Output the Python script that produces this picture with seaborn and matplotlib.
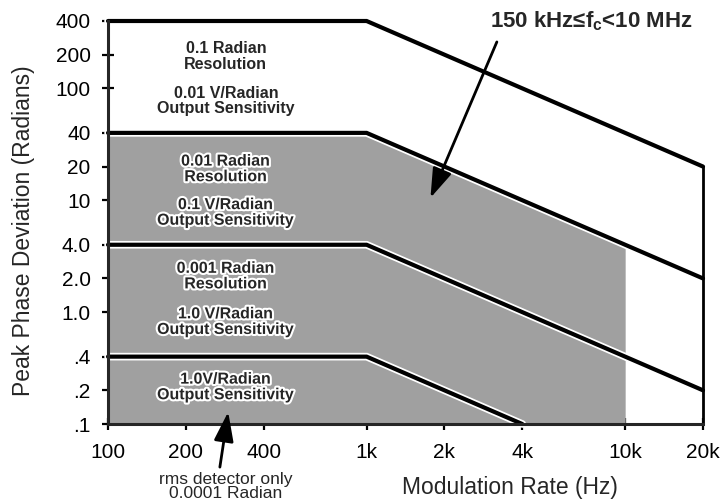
import matplotlib
matplotlib.use("Agg")
import matplotlib.pyplot as plt
import matplotlib.patheffects as pe
from matplotlib.ticker import NullLocator, FixedLocator, FixedFormatter
import pandas as pd
import seaborn as sns

# Modulation-rate breakpoints (Hz)
rate = [100, 1000, 20000]
# Maximum peak phase deviation of each range (radians)
range_400 = [400, 400, 20]
range_40 = [40, 40, 2]
range_4 = [4, 4, 0.2]
# The lowest range runs off the bottom of the scale at 4 kHz
rate_low = [100, 1000, 4000]
range_04 = [0.4, 0.4, 0.1]
# Shaded area (150 kHz <= fc < 10 MHz) reaches 10 kHz
shade_rate = [100, 1000, 10000]
shade_top = [40, 40, 4]

x_ticks = [100, 200, 400, 1000, 2000, 4000, 10000, 20000]
x_labels = ["100", "200", "400", "1k", "2k", "4k", "10k", "20k"]
y_ticks = [400, 200, 100, 40, 20, 10, 4, 2, 1, 0.4, 0.2, 0.1]
y_labels = ["400", "200", "100", "40", "20", "10", "4.0", "2.0", "1.0", ".4", ".2", ".1"]

sns.set_style("ticks")
plt.rcParams["font.family"] = ["Liberation Sans", "DejaVu Sans"]
plt.rcParams["mathtext.fontset"] = "custom"
plt.rcParams["mathtext.rm"] = "Liberation Sans"
plt.rcParams["mathtext.bf"] = "Liberation Sans:bold"

curves = pd.concat([
    pd.DataFrame({"rate": rate, "dev": range_400, "range": "400"}),
    pd.DataFrame({"rate": rate, "dev": range_40, "range": "40"}),
    pd.DataFrame({"rate": rate, "dev": range_4, "range": "4"}),
    pd.DataFrame({"rate": rate_low, "dev": range_04, "range": "0.4"}),
], ignore_index=True)

fig = plt.figure(figsize=(7.22, 5.0), dpi=100)
ax = fig.add_axes([0.1496, 0.152, 0.8241, 0.806])
ax.set_xscale("log")
ax.set_yscale("log")

gray = "#a0a0a0"
ax.fill_between(shade_rate, y_ticks[-1], shade_top, color=gray, lw=0, zorder=1)

line_fx = [pe.Stroke(linewidth=5.5, foreground="white"), pe.Normal()]
sns.lineplot(data=curves, x="rate", y="dev", units="range", estimator=None,
             sort=False, color="black", lw=3, ax=ax, zorder=3,
             path_effects=line_fx, solid_joinstyle="miter", clip_on=False)
# right-hand boundary at the top modulation rate
ax.plot([rate[-1], rate[-1]], [y_ticks[-1], range_400[-1]], color="black",
        lw=2, zorder=3, clip_on=False)

ax.set_xlim(x_ticks[0], x_ticks[-1])
ax.set_ylim(y_ticks[-1], y_ticks[0])
ax.xaxis.set_major_locator(FixedLocator(x_ticks))
ax.xaxis.set_major_formatter(FixedFormatter(x_labels))
ax.yaxis.set_major_locator(FixedLocator(y_ticks))
ax.yaxis.set_major_formatter(FixedFormatter(y_labels))
ax.xaxis.set_minor_locator(NullLocator())
ax.yaxis.set_minor_locator(NullLocator())

for side in ("top", "right"):
    ax.spines[side].set_visible(False)
for side in ("left", "bottom"):
    ax.spines[side].set_linewidth(2.2)
    ax.spines[side].set_zorder(4)
ax.tick_params(axis="both", direction="inout", length=9, width=1.6,
               labelsize=15, colors="black")
ax.tick_params(axis="y", pad=8)
ax.tick_params(axis="x", pad=9)
ax.set_facecolor("white")

ax.set_xlabel("Modulation Rate (Hz)", fontsize=16.5)
ax.set_ylabel("Peak Phase Deviation (Radians)", fontsize=16.5)
ax.xaxis.set_label_coords(0.676, -0.128)
ax.yaxis.set_label_coords(-0.122, 0.479)

halo = [pe.withStroke(linewidth=3, foreground="white")]
blocks = [
    ("0.1 Radian\nResolution", 0.912, None),
    ("0.01 V/Radian\nOutput Sensitivity", 0.801, None),
    ("0.01 Radian\nResolution", 0.633, halo),
    ("0.1 V/Radian\nOutput Sensitivity", 0.525, halo),
    ("0.001 Radian\nResolution", 0.367, halo),
    ("1.0 V/Radian\nOutput Sensitivity", 0.254, halo),
    ("1.0V/Radian\nOutput Sensitivity", 0.092, halo),
]
for txt, yy, fx in blocks:
    ax.text(0.198, yy, txt, transform=ax.transAxes, ha="center", va="center",
            fontsize=11.5, fontweight="bold", linespacing=1.05, zorder=5,
            path_effects=fx)

ax.text(0.813, 1.0, r"150 kHz≤f$_{\mathbf{c}}$<10 MHz", transform=ax.transAxes,
        ha="center", va="center", fontsize=16, fontweight="bold", zorder=5)
arrow = dict(arrowstyle="-|>,head_length=0.9,head_width=0.3", color="black",
             lw=2, mutation_scale=20, shrinkA=0, shrinkB=0)
ax.annotate("", xy=(1766, 10.5), xytext=(3190, 260), xycoords="data",
            textcoords="data", arrowprops=arrow, zorder=6)
ax.annotate("", xy=(0.202, 0.03), xytext=(0.188, -0.107),
            xycoords="axes fraction", textcoords="axes fraction",
            arrowprops=arrow, annotation_clip=False, zorder=6)
ax.text(0.198, -0.118, "rms detector only\n0.0001 Radian", transform=ax.transAxes,
        ha="center", va="top", fontsize=12.5, linespacing=0.95)

fig.savefig("out.png", dpi=100)
